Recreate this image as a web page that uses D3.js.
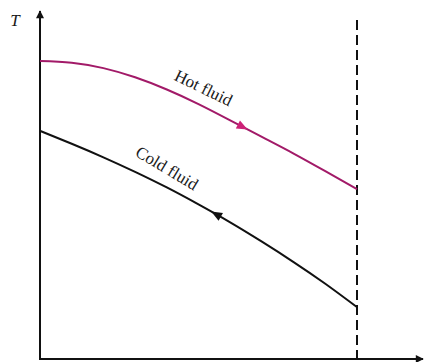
<!DOCTYPE html>
<html lang="en">
<head>
<meta charset="utf-8">
<title>Hot and cold fluid</title>
<script src="https://cdn.jsdelivr.net/npm/d3@7"></script>
<style>
  html, body { margin: 0; padding: 0; background: #fff; }
  svg { display: block; }
  .lbl { font-family: "Liberation Serif", "DejaVu Serif", serif; fill: #1a1a1a; }
</style>
</head>
<body>
<script>
// position along the exchanger (0 = inlet side, 10 = dashed line)
let xs = [0, 1, 2, 3, 4, 5, 6, 7, 8, 9, 10];
// temperatures
let hot  = [8.79, 8.74, 8.58, 8.31, 7.95, 7.52, 7.04, 6.55, 6.06, 5.54, 5.01];
let cold = [6.73, 6.35, 5.95, 5.52, 5.06, 4.56, 4.03, 3.46, 2.86, 2.22, 1.53];
let seriesNames = ["Hot fluid", "Cold fluid"];
let axisName = "T";

let w = 424, h = 362;

let svg = d3.select("body").append("svg")
  .attr("width", w)
  .attr("height", h);

let x = d3.scaleLinear().domain([0, 10]).range([40, 357]);
let y = d3.scaleLinear().domain([0, 10]).range([359, 20]);

// arrow heads
let defs = svg.append("defs");
defs.append("marker")
  .attr("id", "axArrow")
  .attr("viewBox", "0 0 10 10")
  .attr("refX", 9).attr("refY", 5)
  .attr("markerWidth", 10).attr("markerHeight", 8)
  .attr("markerUnits", "userSpaceOnUse")
  .attr("orient", "auto")
  .append("path").attr("d", "M0,0 L10,5 L0,10 Z").attr("fill", "#111");

// axes: plain lines, no ticks
let yAxis = d3.axisLeft(y).tickValues([]).tickSizeOuter(0);
let xAxis = d3.axisBottom(x).tickValues([]).tickSizeOuter(0);

let gy = svg.append("g").attr("transform", "translate(40,0)").call(yAxis);
gy.select(".domain")
  .attr("d", "M0," + y(0) + "V" + 11)
  .attr("stroke", "#111").attr("stroke-width", 2)
  .attr("marker-end", "url(#axArrow)");

let gx = svg.append("g").attr("transform", "translate(0," + y(0) + ")").call(xAxis);
gx.select(".domain")
  .attr("d", "M39,0H" + 423)
  .attr("stroke", "#111").attr("stroke-width", 2)
  .attr("marker-end", "url(#axArrow)");

// dashed end line
svg.append("line")
  .attr("x1", x(10)).attr("x2", x(10))
  .attr("y1", y(10)).attr("y2", y(0))
  .attr("stroke", "#111").attr("stroke-width", 2)
  .attr("stroke-dasharray", "10,5");

let line = d3.line()
  .x((d, i) => x(xs[i]))
  .y(d => y(d))
  .curve(d3.curveNatural);

let hotPath = svg.append("path")
  .datum(hot)
  .attr("d", line)
  .attr("fill", "none")
  .attr("stroke", "#a21a68")
  .attr("stroke-width", 2);

let coldPath = svg.append("path")
  .datum(cold)
  .attr("d", line)
  .attr("fill", "none")
  .attr("stroke", "#111")
  .attr("stroke-width", 2);

// find point on a path near a given x pixel
function pointAt(path, px) {
  let node = path.node(), len = node.getTotalLength();
  let lo = 0, hi = len;
  for (let k = 0; k < 30; k++) {
    let mid = (lo + hi) / 2;
    if (node.getPointAtLength(mid).x < px) lo = mid; else hi = mid;
  }
  return { node: node, l: lo };
}

function flowArrow(path, px, forward, color) {
  let p = pointAt(path, px);
  let a = p.node.getPointAtLength(p.l);
  let b = p.node.getPointAtLength(p.l + (forward ? -1 : 1));
  let ang = Math.atan2(a.y - b.y, a.x - b.x) * 180 / Math.PI;
  svg.append("path")
    .attr("d", "M0,0 L-11,-4.5 L-11,4.5 Z")
    .attr("transform", "translate(" + a.x + "," + a.y + ") rotate(" + ang + ")")
    .attr("fill", color);
}

flowArrow(hotPath, x(6.55), true, "#cc2277");
flowArrow(coldPath, x(5.4), false, "#111");

// labels
svg.append("text").attr("class", "lbl")
  .attr("font-size", 17)
  .attr("text-anchor", "middle")
  .attr("transform", "translate(201,93) rotate(26)")
  .text(seriesNames[0]);

svg.append("text").attr("class", "lbl")
  .attr("font-size", 17)
  .attr("text-anchor", "middle")
  .attr("transform", "translate(164,173) rotate(31)")
  .text(seriesNames[1]);

svg.append("text").attr("class", "lbl")
  .attr("x", 15).attr("y", 26)
  .attr("font-size", 17)
  .attr("font-style", "italic")
  .attr("text-anchor", "middle")
  .text(axisName);
</script>
</body>
</html>
